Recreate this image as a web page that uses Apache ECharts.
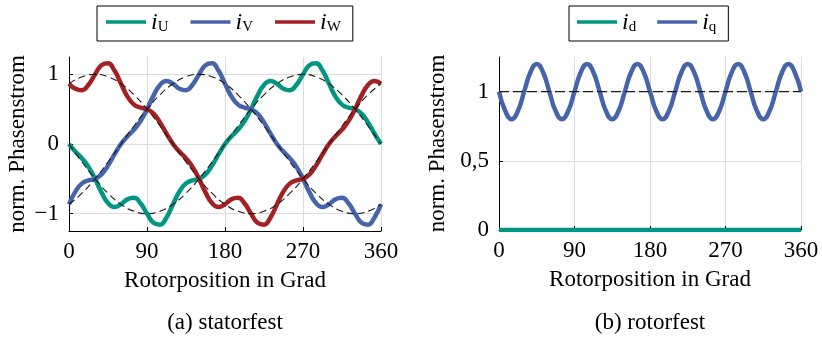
<!DOCTYPE html>
<html>
<head>
<meta charset="utf-8">
<script src="https://cdn.jsdelivr.net/npm/echarts@6/dist/echarts.min.js"></script>
<style>
  html, body { margin: 0; padding: 0; background: #fff; }
  #chart { width: 822px; height: 338px; }
</style>
</head>
<body>
<div id="chart"></div>
<script>
// Rotor position samples (degrees)
const angles = [0, 7.5, 15, 22.5, 30, 37.5, 45, 52.5, 60, 67.5, 75, 82.5, 90, 97.5, 105, 112.5,
  120, 127.5, 135, 142.5, 150, 157.5, 165, 172.5, 180, 187.5, 195, 202.5, 210, 217.5, 225, 232.5,
  240, 247.5, 255, 262.5, 270, 277.5, 285, 292.5, 300, 307.5, 315, 322.5, 330, 337.5, 345, 352.5, 360];

// Phase currents (stator frame)
const iU = [0, -0.112, -0.207, -0.329, -0.5, -0.695, -0.849, -0.906, -0.866, -0.793, -0.773, -0.851,
  -1, -1.132, -1.159, -1.055, -0.866, -0.681, -0.566, -0.523, -0.5, -0.437, -0.311, -0.149,
  0, 0.112, 0.207, 0.329, 0.5, 0.695, 0.849, 0.906, 0.866, 0.793, 0.773, 0.851,
  1, 1.132, 1.159, 1.055, 0.866, 0.681, 0.566, 0.523, 0.5, 0.437, 0.311, 0.149, 0];
const iV = [-0.866, -0.681, -0.566, -0.523, -0.5, -0.437, -0.311, -0.149, 0, 0.112, 0.207, 0.329,
  0.5, 0.695, 0.849, 0.906, 0.866, 0.793, 0.773, 0.851, 1, 1.132, 1.159, 1.055,
  0.866, 0.681, 0.566, 0.523, 0.5, 0.437, 0.311, 0.149, 0, -0.112, -0.207, -0.329,
  -0.5, -0.695, -0.849, -0.906, -0.866, -0.793, -0.773, -0.851, -1, -1.132, -1.159, -1.055, -0.866];
const iW = [0.866, 0.793, 0.773, 0.851, 1, 1.132, 1.159, 1.055, 0.866, 0.681, 0.566, 0.523,
  0.5, 0.437, 0.311, 0.149, 0, -0.112, -0.207, -0.329, -0.5, -0.695, -0.849, -0.906,
  -0.866, -0.793, -0.773, -0.851, -1, -1.132, -1.159, -1.055, -0.866, -0.681, -0.566, -0.523,
  -0.5, -0.437, -0.311, -0.149, 0, 0.112, 0.207, 0.329, 0.5, 0.695, 0.849, 0.906, 0.866];

// Fundamental waves (dashed)
const fundAngles = [0, 15, 30, 45, 60, 75, 90, 105, 120, 135, 150, 165, 180,
  195, 210, 225, 240, 255, 270, 285, 300, 315, 330, 345, 360];
const fundU = [0, -0.259, -0.5, -0.707, -0.866, -0.966, -1, -0.966, -0.866, -0.707, -0.5, -0.259, 0,
  0.259, 0.5, 0.707, 0.866, 0.966, 1, 0.966, 0.866, 0.707, 0.5, 0.259, 0];
const fundV = [-0.866, -0.707, -0.5, -0.259, 0, 0.259, 0.5, 0.707, 0.866, 0.966, 1, 0.966, 0.866,
  0.707, 0.5, 0.259, 0, -0.259, -0.5, -0.707, -0.866, -0.966, -1, -0.966, -0.866];
const fundW = [0.866, 0.966, 1, 0.966, 0.866, 0.707, 0.5, 0.259, 0, -0.259, -0.5, -0.707, -0.866,
  -0.966, -1, -0.966, -0.866, -0.707, -0.5, -0.259, 0, 0.259, 0.5, 0.707, 0.866];

// Rotor frame currents
const iq = [1, 0.86, 0.8, 0.86, 1, 1.14, 1.2, 1.14, 1, 0.86, 0.8, 0.86, 1, 1.14, 1.2, 1.14,
  1, 0.86, 0.8, 0.86, 1, 1.14, 1.2, 1.14, 1, 0.86, 0.8, 0.86, 1, 1.14, 1.2, 1.14,
  1, 0.86, 0.8, 0.86, 1, 1.14, 1.2, 1.14, 1, 0.86, 0.8, 0.86, 1, 1.14, 1.2, 1.14, 1];
const idAngles = [0, 360];
const id = [0, 0];
const iqRefAngles = [0, 360];
const iqRef = [1, 1];

// Axis ticks
const xTicks = [0, 90, 180, 270, 360];
const yTicksStator = [-1, 0, 1];
const yTicksRotor = [0, 0.5, 1];

const FONT = 'Liberation Serif';
const GREEN = '#009682', BLUE = '#4664AA', RED = '#A22223';

const pairs = (xs, ys) => xs.map((x, i) => [x, ys[i]]);

const fmtY = v => (v < 0 ? '\u2212' + Math.abs(v) : String(v).replace('.', ','));

function xAxis(gridIndex) {
  return {
    type: 'value', gridIndex, min: xTicks[0], max: xTicks[xTicks.length - 1], interval: 90,
    name: 'Rotorposition in Grad', nameLocation: 'middle', nameGap: 38,
    nameTextStyle: { fontFamily: FONT, fontSize: 23, color: '#000' },
    axisLine: { onZero: false, lineStyle: { color: '#000', width: 1 } },
    axisTick: { inside: true, length: 4, lineStyle: { color: '#000' } },
    axisLabel: { fontFamily: FONT, fontSize: 23, color: '#000', margin: 9 },
    splitLine: { show: true, lineStyle: { color: '#dcdcdc', width: 1 } }
  };
}

function yAxis(gridIndex, min, max, ticks, nameGap) {
  return {
    type: 'value', gridIndex, min, max,
    name: 'norm. Phasenstrom', nameLocation: 'middle', nameGap,
    nameTextStyle: { fontFamily: FONT, fontSize: 23, color: '#000' },
    axisLine: { show: true, onZero: false, lineStyle: { color: '#000', width: 1 } },
    axisTick: { show: true, inside: true, length: 4, customValues: ticks, lineStyle: { color: '#000' } },
    axisLabel: { fontFamily: FONT, fontSize: 23, color: '#000', margin: 10, customValues: ticks, formatter: fmtY },
    splitLine: { show: true, lineStyle: { color: '#dcdcdc', width: 1 } }
  };
}

const legendRich = {
  i: { fontFamily: FONT, fontStyle: 'italic', fontSize: 24, lineHeight: 26, verticalAlign: 'bottom', color: '#000' },
  s: { fontFamily: FONT, fontSize: 15, lineHeight: 14, verticalAlign: 'bottom', color: '#000' }
};

function legend(left, names, gap, pad) {
  return {
    left, top: 6, orient: 'horizontal',
    data: names, itemGap: gap, itemWidth: 40, itemHeight: 3.5,
    icon: 'rect',
    padding: pad, borderColor: '#000', borderWidth: 1, borderRadius: 0,
    formatter: n => '{i|i}{s|' + n.slice(1) + '}',
    textStyle: { rich: legendRich },
    selectedMode: false
  };
}

function phaseLine(name, xs, ys, color, gridIdx) {
  return {
    type: 'line', name, xAxisIndex: gridIdx, yAxisIndex: gridIdx,
    data: pairs(xs, ys), smooth: true, showSymbol: false, symbol: 'none',
    lineStyle: { color, width: 4.5 }, itemStyle: { color }, z: 3, silent: true
  };
}

function dashedLine(xs, ys, gridIdx, dash, smooth) {
  return {
    type: 'line', xAxisIndex: gridIdx, yAxisIndex: gridIdx,
    data: pairs(xs, ys), smooth, showSymbol: false, symbol: 'none',
    lineStyle: { color: '#1a1a1a', width: 1.1, type: dash }, z: 4, silent: true
  };
}

const option = {
  animation: false,
  backgroundColor: '#fff',
  grid: [
    { left: 69, top: 57, width: 312, height: 174 },
    { left: 499, top: 57, width: 302, height: 173 }
  ],
  xAxis: [xAxis(0), xAxis(1)],
  yAxis: [yAxis(0, -1.25, 1.25, yTicksStator, 40), yAxis(1, 0, 1.25, yTicksRotor, 50)],
  legend: [
    legend(97, ['iU', 'iV', 'iW'], 22, [5, 12, 6, 9]),
    legend(569, ['id', 'iq'], 21, [5, 12, 6, 8])
  ],
  graphic: [
    { type: 'text', x: 225, y: 323, style: { text: '(a) statorfest', fontFamily: FONT, fontSize: 23, fill: '#000', align: 'center', verticalAlign: 'middle' } },
    { type: 'text', x: 650, y: 323, style: { text: '(b) rotorfest', fontFamily: FONT, fontSize: 23, fill: '#000', align: 'center', verticalAlign: 'middle' } }
  ],
  series: [
    phaseLine('iU', angles, iU, GREEN, 0),
    phaseLine('iV', angles, iV, BLUE, 0),
    phaseLine('iW', angles, iW, RED, 0),
    dashedLine(fundAngles, fundU, 0, [7, 4], true),
    dashedLine(fundAngles, fundV, 0, [7, 4], true),
    dashedLine(fundAngles, fundW, 0, [7, 4], true),
    phaseLine('id', idAngles, id, GREEN, 1),
    phaseLine('iq', angles, iq, BLUE, 1),
    dashedLine(iqRefAngles, iqRef, 1, [10, 4], false)
  ]
};

const chart = echarts.init(document.getElementById('chart'), null, { renderer: 'canvas' });
chart.setOption(option);
</script>
</body>
</html>
